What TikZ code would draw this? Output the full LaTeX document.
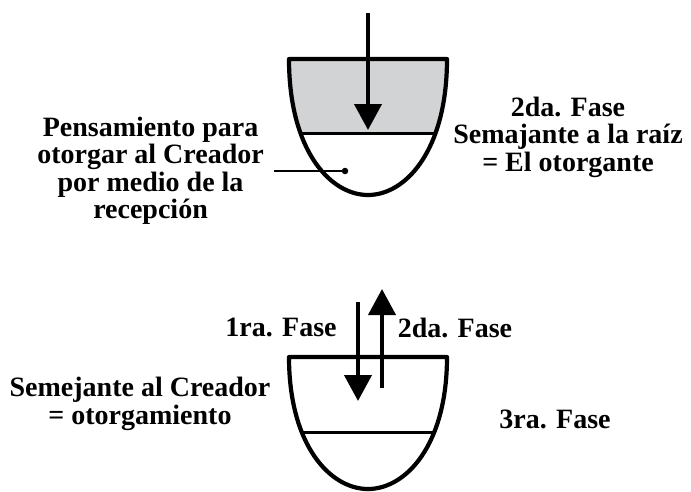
\documentclass[tikz,border=0pt]{standalone}
\usepackage{fontspec}
\setmainfont{Liberation Serif}
\usetikzlibrary{arrows.meta,positioning}
\definecolor{cupgray}{RGB}{210,211,213}
\tikzset{
  cup/.style={line width=4.2pt, line join=round},
  divider/.style={line width=3pt},
  flow/.style={line width=4pt, -{Triangle[width=27pt,length=26pt]}},
  lbl/.style={font=\bfseries\fontsize{28}{27.5}\selectfont, align=center, inner sep=0pt},
}
\begin{document}
\begin{tikzpicture}[x=1pt,y=-1pt]
\useasboundingbox (0,0) rectangle (691,491);
% upper cup (shaded top part)
\begin{scope}
  \clip (289,59) -- (447,59) .. controls (447,150) and (406,195) .. (368,195) .. controls (330,195) and (289,150) .. (289,59) -- cycle;
  \fill[cupgray] (280,59) rectangle (460,133);
  \draw[divider] (280,133) -- (460,133);
\end{scope}
\draw[cup] (289,59) -- (447,59) .. controls (447,150) and (406,195) .. (368,195) .. controls (330,195) and (289,150) .. (289,59) -- cycle;
% lower cup
\begin{scope}
  \clip (289,357) -- (447,357) .. controls (447,445) and (406,489) .. (368,489) .. controls (330,489) and (289,445) .. (289,357) -- cycle;
  \draw[divider] (280,432) -- (460,432);
\end{scope}
\draw[cup] (289,357) -- (447,357) .. controls (447,445) and (406,489) .. (368,489) .. controls (330,489) and (289,445) .. (289,357) -- cycle;

% arrows
\coordinate (instart) at (368,13);
\coordinate (inend) at (368,130);
\draw[flow] (instart) -- (inend);
\coordinate (downstart) at (358,302);
\coordinate (downend) at (358,401);
\draw[flow] (downstart) -- (downend);
\coordinate (upstart) at (382,388);
\coordinate (upend) at (382,289);
\draw[flow] (upstart) -- (upend);

% labels
\node[lbl, inner xsep=10pt, anchor=east] (pens) at (274,171) {Pensamiento para\\otorgar al Creador\\por medio de la\\recepción};
\node[circle, fill, inner sep=0pt, minimum size=6.5pt] (dot) at (345,171) {};
\draw[line width=1.8pt] (pens.east) -- (dot);
\node[lbl] (raiz) at (568,137) {2da. Fase\\Semajante a la raíz\\= El otorgante};
\node[lbl] (fase1) at (281,327) {1ra. Fase};
\node[lbl] (fase2) at (455,328) {2da. Fase};
\node[lbl] (creador) at (140,404) {Semejante al Creador\\= otorgamiento};
\node[lbl] (fase3) at (555,419) {3ra. Fase};
\end{tikzpicture}
\end{document}
